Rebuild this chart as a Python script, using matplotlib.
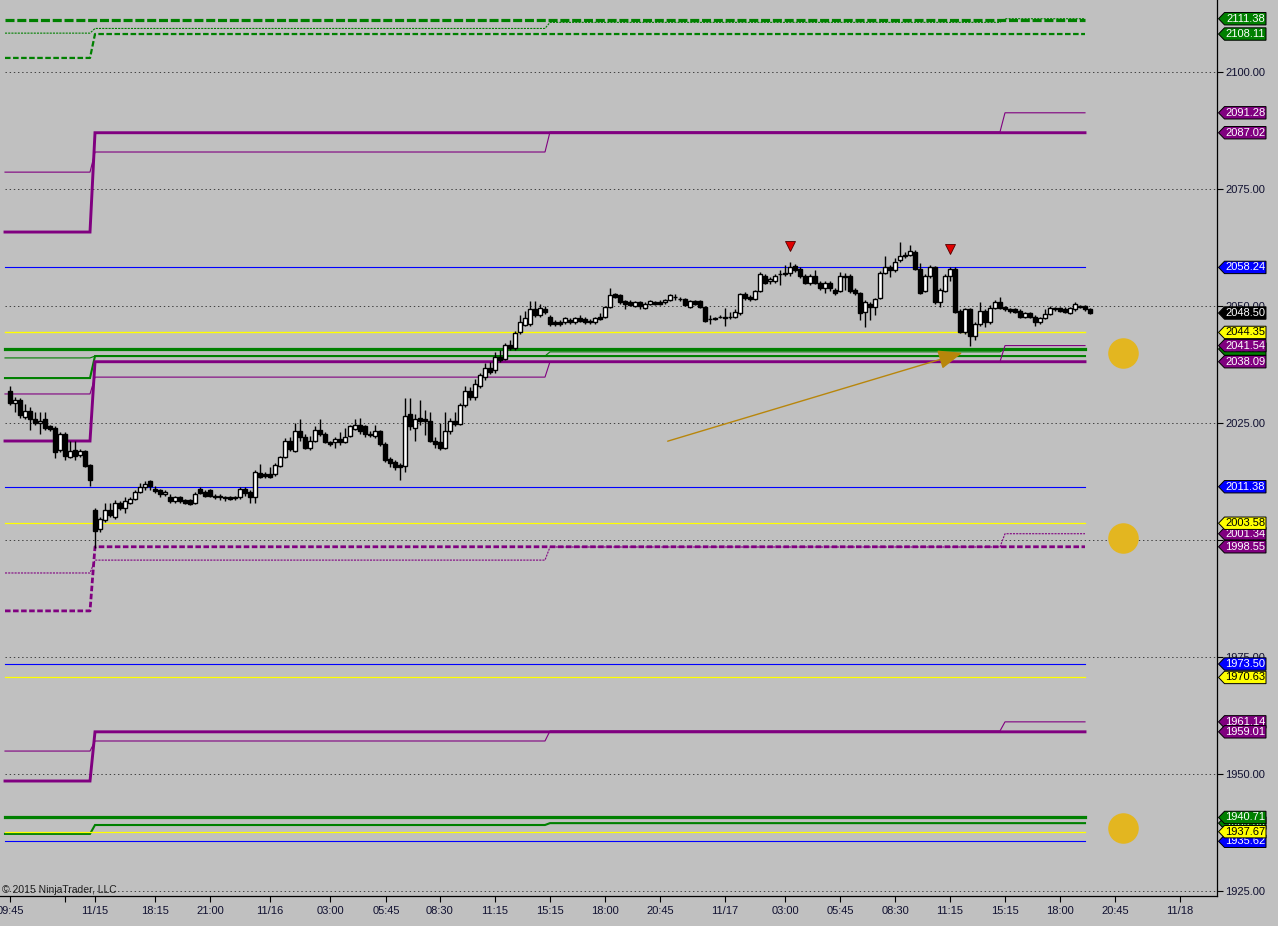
import matplotlib.pyplot as plt
import numpy as np
from matplotlib.patches import Polygon
from matplotlib.transforms import blended_transform_factory

plt.rcParams['font.family'] = ['Liberation Sans', 'DejaVu Sans']
plt.rcParams['lines.scale_dashes'] = False

# ---- 15 min candles (ES 12-15), left to right ----
opens = [
    2031.75, 2029.25, 2030.00, 2026.25, 2027.50, 2025.75, 2025.00, 2025.75, 2024.25, 2024.00,
    2019.25, 2022.75, 2017.75, 2019.25, 2018.25, 2019.00, 2016.00, 2006.50, 2002.25, 2004.25,
    2006.50, 2005.00, 2008.00, 2006.75, 2008.00, 2008.75, 2010.25, 2011.25, 2012.50, 2011.00,
    2010.75, 2009.75, 2009.25, 2008.25, 2009.25, 2008.50, 2008.50, 2008.00, 2011.00, 2010.25,
    2010.75, 2009.50, 2009.50, 2009.25, 2009.25, 2009.25, 2009.25, 2011.00, 2010.25, 2009.25,
    2014.25, 2014.00, 2014.00, 2014.00, 2015.75, 2017.75, 2021.25, 2019.00, 2023.25, 2022.00,
    2019.75, 2021.25, 2023.50, 2022.75, 2021.00, 2021.00, 2021.50, 2021.00, 2022.25, 2023.75,
    2024.50, 2024.25, 2022.75, 2022.25, 2023.25, 2020.50, 2017.25, 2016.75, 2016.00, 2015.75,
    2027.00, 2024.00, 2026.00, 2025.75, 2025.50, 2021.25, 2021.00, 2019.75, 2023.25, 2025.50,
    2024.75, 2028.75, 2031.75, 2030.50, 2033.00, 2034.75, 2036.75, 2036.25, 2039.00, 2038.75,
    2041.75, 2041.00, 2044.50, 2046.00, 2046.25, 2049.25, 2048.00, 2049.25, 2047.75, 2046.50,
    2046.50, 2046.50, 2047.00, 2046.50, 2047.50, 2047.25, 2046.75, 2046.50, 2047.75, 2047.75,
    2049.75, 2052.50, 2052.25, 2051.00, 2050.75, 2050.00, 2050.75, 2049.50, 2050.50, 2050.75,
    2050.75, 2050.75, 2051.25, 2052.00, 2051.50, 2051.50, 2049.75, 2051.00, 2051.00, 2049.75,
    2047.25, 2047.25, 2047.75, 2047.75, 2047.75, 2047.75, 2048.50, 2052.50, 2052.00, 2051.50,
    2053.25, 2056.50, 2055.25, 2055.25, 2056.75, 2057.00, 2057.00, 2058.50, 2058.00, 2056.50,
    2055.00, 2056.50, 2055.00, 2053.75, 2055.00, 2053.50, 2053.25, 2056.50, 2056.50, 2053.50,
    2052.75, 2048.75, 2050.50, 2049.75, 2051.75, 2057.00, 2058.25, 2057.75, 2059.75, 2060.75,
    2061.00, 2061.50, 2058.00, 2053.25, 2056.50, 2058.25, 2050.75, 2053.25, 2056.50, 2058.00,
    2049.00, 2044.50, 2049.25, 2043.50, 2046.25, 2049.00, 2046.50, 2049.50, 2050.75, 2049.75,
    2049.25, 2049.25, 2049.00, 2047.75, 2048.50, 2047.75, 2046.50, 2047.50, 2048.25, 2049.50,
    2049.50, 2049.25, 2048.50, 2049.25, 2050.00, 2050.00, 2049.25]
highs = [
    2033.00, 2030.50, 2030.25, 2029.00, 2028.50, 2027.25, 2027.25, 2027.25, 2024.50, 2024.25,
    2023.00, 2023.00, 2021.25, 2021.25, 2019.50, 2019.25, 2016.25, 2006.75, 2005.00, 2008.00,
    2008.00, 2008.50, 2008.25, 2009.25, 2009.25, 2010.75, 2012.25, 2012.50, 2012.75, 2011.50,
    2011.00, 2010.75, 2009.75, 2009.50, 2009.50, 2008.75, 2008.75, 2010.25, 2011.25, 2010.75,
    2011.00, 2009.75, 2009.75, 2009.50, 2009.50, 2009.50, 2011.25, 2011.25, 2010.75, 2015.00,
    2016.25, 2014.50, 2015.50, 2016.50, 2018.00, 2021.75, 2022.00, 2025.00, 2025.75, 2022.75,
    2022.25, 2024.25, 2025.75, 2023.00, 2021.25, 2022.00, 2023.00, 2024.00, 2024.50, 2025.75,
    2026.00, 2024.50, 2023.25, 2024.50, 2023.50, 2021.00, 2017.75, 2017.00, 2016.50, 2030.25,
    2030.25, 2027.00, 2030.00, 2027.75, 2027.25, 2022.00, 2025.00, 2027.25, 2026.00, 2027.25,
    2029.25, 2033.00, 2032.75, 2034.50, 2035.75, 2037.75, 2038.00, 2040.25, 2040.50, 2042.00,
    2042.75, 2044.75, 2048.00, 2049.00, 2051.00, 2051.00, 2050.50, 2050.00, 2048.00, 2047.00,
    2047.00, 2047.75, 2047.50, 2047.75, 2048.00, 2047.75, 2047.25, 2047.75, 2048.50, 2050.00,
    2053.75, 2052.75, 2052.50, 2051.25, 2051.25, 2051.00, 2051.00, 2050.75, 2051.25, 2051.00,
    2051.25, 2051.50, 2052.50, 2052.50, 2052.00, 2051.75, 2051.25, 2051.25, 2051.25, 2050.00,
    2048.00, 2047.75, 2048.00, 2049.50, 2048.75, 2049.25, 2052.75, 2053.00, 2052.25, 2053.50,
    2057.25, 2056.75, 2056.25, 2056.75, 2057.75, 2058.75, 2059.50, 2059.00, 2058.25, 2056.75,
    2056.75, 2057.75, 2055.25, 2055.25, 2055.25, 2053.75, 2057.25, 2057.00, 2056.75, 2053.75,
    2053.00, 2051.25, 2050.75, 2051.75, 2057.50, 2060.75, 2058.75, 2060.25, 2063.75, 2061.50,
    2063.00, 2062.00, 2059.25, 2056.75, 2058.75, 2058.50, 2053.75, 2056.75, 2058.25, 2058.25,
    2049.25, 2049.50, 2049.50, 2046.50, 2050.75, 2049.25, 2050.25, 2051.25, 2052.00, 2050.00,
    2049.50, 2049.50, 2049.25, 2048.75, 2048.75, 2048.00, 2047.75, 2049.25, 2050.00, 2049.75,
    2049.75, 2049.75, 2049.75, 2050.75, 2050.25, 2050.25, 2049.50]
lows = [
    2028.75, 2027.25, 2026.00, 2025.75, 2023.50, 2024.50, 2022.75, 2023.50, 2023.25, 2017.50,
    2018.75, 2017.00, 2017.50, 2017.00, 2017.75, 2015.50, 2011.50, 1998.25, 2001.75, 2003.75,
    2005.00, 2004.50, 2006.50, 2005.75, 2007.75, 2008.50, 2010.00, 2010.75, 2010.75, 2010.00,
    2009.25, 2009.50, 2008.00, 2008.00, 2008.00, 2007.75, 2007.50, 2007.75, 2009.75, 2009.25,
    2009.25, 2008.75, 2008.50, 2008.25, 2008.50, 2008.50, 2008.75, 2009.50, 2008.00, 2008.00,
    2013.25, 2013.25, 2013.25, 2013.75, 2015.50, 2017.50, 2019.00, 2018.75, 2021.25, 2019.50,
    2019.25, 2021.00, 2022.25, 2020.75, 2020.00, 2019.75, 2020.25, 2020.75, 2022.00, 2023.50,
    2022.75, 2022.00, 2022.00, 2021.75, 2020.00, 2016.75, 2015.50, 2015.00, 2012.75, 2014.50,
    2023.50, 2021.25, 2024.50, 2022.50, 2021.00, 2019.75, 2019.25, 2019.50, 2022.75, 2024.25,
    2024.50, 2028.50, 2030.00, 2030.00, 2032.50, 2034.25, 2035.50, 2035.75, 2038.00, 2038.50,
    2040.50, 2040.50, 2044.00, 2045.75, 2045.75, 2047.75, 2047.75, 2048.25, 2045.75, 2045.75,
    2045.75, 2046.25, 2046.25, 2046.25, 2046.50, 2046.25, 2046.25, 2046.25, 2047.00, 2047.50,
    2049.50, 2051.75, 2050.50, 2049.25, 2050.00, 2049.75, 2049.25, 2049.25, 2050.25, 2050.25,
    2050.25, 2050.50, 2051.00, 2051.25, 2051.00, 2050.00, 2049.50, 2050.25, 2049.50, 2046.50,
    2046.25, 2047.00, 2047.50, 2045.75, 2047.25, 2047.50, 2048.00, 2051.25, 2051.00, 2051.25,
    2053.00, 2054.75, 2054.75, 2055.00, 2054.50, 2056.50, 2056.50, 2057.25, 2056.00, 2054.75,
    2054.50, 2054.75, 2053.50, 2052.75, 2053.25, 2052.25, 2053.00, 2053.50, 2052.75, 2052.25,
    2047.00, 2045.50, 2047.00, 2048.00, 2051.50, 2056.75, 2056.25, 2057.25, 2059.50, 2060.25,
    2060.75, 2057.75, 2052.50, 2053.00, 2056.00, 2050.50, 2049.75, 2053.00, 2055.25, 2048.50,
    2044.25, 2044.00, 2041.50, 2042.75, 2045.75, 2045.50, 2046.25, 2049.25, 2049.25, 2049.00,
    2048.50, 2048.50, 2047.50, 2047.50, 2047.50, 2045.75, 2046.25, 2047.25, 2048.00, 2049.00,
    2048.75, 2048.50, 2048.25, 2049.00, 2049.50, 2049.00, 2048.25]
closes = [
    2029.25, 2030.00, 2026.75, 2027.50, 2025.75, 2025.00, 2025.50, 2024.00, 2023.75, 2018.75,
    2022.75, 2018.00, 2019.00, 2018.00, 2019.00, 2015.75, 2012.75, 2002.00, 2004.50, 2006.50,
    2005.25, 2008.00, 2006.75, 2008.25, 2008.75, 2010.25, 2011.25, 2012.00, 2011.50, 2010.50,
    2009.75, 2010.25, 2008.25, 2009.25, 2008.25, 2008.00, 2007.75, 2009.75, 2010.00, 2009.50,
    2009.50, 2009.25, 2009.25, 2009.00, 2008.75, 2009.00, 2011.00, 2010.00, 2009.25, 2014.50,
    2013.50, 2013.75, 2013.50, 2016.00, 2017.75, 2021.25, 2019.50, 2023.25, 2022.00, 2019.75,
    2021.25, 2023.50, 2022.75, 2021.00, 2020.50, 2021.50, 2021.00, 2022.00, 2024.25, 2024.50,
    2023.25, 2022.75, 2022.50, 2023.25, 2020.50, 2017.00, 2016.50, 2015.50, 2015.50, 2026.50,
    2024.25, 2025.75, 2025.50, 2025.50, 2021.25, 2020.50, 2019.75, 2023.25, 2025.50, 2024.75,
    2028.75, 2031.75, 2030.50, 2033.25, 2035.25, 2036.75, 2036.00, 2039.00, 2038.50, 2041.75,
    2041.00, 2044.25, 2046.50, 2047.50, 2049.25, 2048.00, 2049.50, 2048.75, 2046.25, 2046.25,
    2046.25, 2047.50, 2046.50, 2047.50, 2046.75, 2046.50, 2046.50, 2047.50, 2047.25, 2049.75,
    2052.25, 2052.00, 2050.75, 2050.50, 2050.25, 2050.75, 2050.00, 2050.50, 2051.00, 2050.50,
    2050.50, 2051.25, 2052.25, 2052.00, 2051.50, 2050.25, 2051.00, 2050.50, 2049.75, 2046.75,
    2047.25, 2047.50, 2047.75, 2047.50, 2047.75, 2048.75, 2052.50, 2051.75, 2051.50, 2053.25,
    2056.75, 2055.00, 2055.75, 2056.50, 2056.75, 2056.75, 2058.25, 2057.75, 2056.50, 2055.00,
    2056.50, 2055.00, 2053.75, 2055.00, 2053.75, 2052.75, 2056.50, 2056.25, 2053.25, 2052.75,
    2048.50, 2050.75, 2049.75, 2051.50, 2057.00, 2058.25, 2057.75, 2059.50, 2060.75, 2061.00,
    2061.75, 2058.00, 2052.75, 2056.50, 2058.25, 2050.75, 2053.50, 2056.50, 2058.00, 2048.75,
    2044.50, 2049.25, 2043.50, 2046.25, 2049.00, 2046.50, 2049.50, 2050.75, 2049.50, 2049.25,
    2049.00, 2048.75, 2047.75, 2048.50, 2047.75, 2046.50, 2047.50, 2048.25, 2049.50, 2049.25,
    2049.00, 2048.75, 2049.50, 2050.50, 2049.75, 2049.25, 2048.50]

# ---- pivot style levels: value per session segment (fri, sun/mon, mon/tue, tue/wed) ----
lvl_g_dash_top = [2111.00, 2111.00, 2111.00, 2111.00]
lvl_g_dot_top = [2108.30, 2109.30, 2110.60, 2111.38]
lvl_g_dash2_top = [2103.00, 2108.11, 2108.11, 2108.11]
lvl_p_thick_top = [2065.80, 2087.02, 2087.02, 2087.02]
lvl_p_thin_top = [2078.60, 2082.90, 2087.20, 2091.28]
lvl_b_1 = [2058.24, 2058.24, 2058.24, 2058.24]
lvl_y_1 = [2044.35, 2044.35, 2044.35, 2044.35]
lvl_g_thick_mid = [2040.80, 2040.80, 2040.80, 2040.80]
lvl_g_week_mid = [2034.60, 2039.30, 2039.30, 2039.30]
lvl_g_thin_mid = [2038.90, 2039.30, 2040.20, 2040.80]
lvl_p_thick_mid = [2021.15, 2038.09, 2038.09, 2038.09]
lvl_p_thin_mid = [2031.20, 2034.80, 2038.10, 2041.54]
lvl_b_2 = [2011.38, 2011.38, 2011.38, 2011.38]
lvl_y_2 = [2003.58, 2003.58, 2003.58, 2003.58]
lvl_p_thin_low = [1992.95, 1995.70, 1998.50, 2001.34]
lvl_p_dash_low = [1984.85, 1998.55, 1998.55, 1998.55]
lvl_b_3 = [1973.50, 1973.50, 1973.50, 1973.50]
lvl_y_3 = [1970.63, 1970.63, 1970.63, 1970.63]
lvl_p_thin_bot = [1954.90, 1957.05, 1959.20, 1961.14]
lvl_p_thick_bot = [1948.50, 1959.01, 1959.01, 1959.01]
lvl_g_thick_bot = [1940.71, 1940.71, 1940.71, 1940.71]
lvl_g_week_bot = [1937.20, 1939.10, 1939.50, 1939.50]
lvl_y_4 = [1937.67, 1937.67, 1937.67, 1937.67]
lvl_b_4 = [1935.62, 1935.62, 1935.62, 1935.62]

# right hand price flags, in drawing order
flag_values = [2111.38, 2108.11, 2091.28, 2087.02, 2058.24, 2040.80, 2041.54, 2038.09,
               2044.35, 2011.38, 2001.34, 2003.58, 1998.55, 1973.50, 1970.63, 1961.14,
               1959.01, 1939.50, 1935.62, 1937.67, 1940.71, 2048.50]
flag_colors = ['g', 'g', 'p', 'p', 'b', 'g', 'p', 'p',
               'y', 'b', 'p', 'y', 'p', 'b', 'y', 'p',
               'p', 'g', 'b', 'y', 'g', 'k']

tick_pos = [0, 11, 17, 29, 40, 52, 64, 75.2, 86, 97, 108, 119, 130, 143,
            155, 166, 177, 188, 199, 210, 221, 234]
tick_lab = ['09:45', '', '11/15', '18:15', '21:00', '11/16', '03:00', '05:45', '08:30',
            '11:15', '15:15', '18:00', '20:45', '11/17', '03:00', '05:45', '08:30',
            '11:15', '15:15', '18:00', '20:45', '11/18']

signal_bars = [156, 188]
signal_prices = [2062.8, 2062.2]
dot_bar = 222.6
dot_prices = [2040.0, 2000.4, 1938.5]
arrow_from = (131, 2020.94)
arrow_to = (191, 2040.17)

# ---- colours ----
BG = '#c0c0c0'
GREEN = '#008000'
PURPLE = '#800080'
BLUE = '#0000ff'
YELLOW = '#ffff00'
cmap = {'g': GREEN, 'p': PURPLE, 'b': BLUE, 'y': YELLOW, 'k': 'black'}

fig = plt.figure(figsize=(12.78, 9.26), dpi=100, facecolor=BG)
ax = fig.add_axes([0, 30 / 926, 1217 / 1278, 896 / 926])
ax.set_facecolor(BG)
ax.set_xlim(-2, 241.4)
ax.set_ylim(1923.93, 2115.38)

# dotted grid
yt = np.arange(1925, 2101, 25)
for v in yt:
    ax.plot([-1, 241.4], [v, v], color='#404040', lw=0.7, ls=(0, (1, 2)), zorder=1)

# level lines
seg_len = [18, 91, 91, 17]
lx = np.arange(-1, 216)
styles = [
    (lvl_g_dash_top, GREEN, 2.3, (0, (6.5, 2))),
    (lvl_g_dot_top, GREEN, 0.8, (0, (1.5, 0.8))),
    (lvl_g_dash2_top, GREEN, 1.6, (0, (4, 1.8))),
    (lvl_p_thick_top, PURPLE, 2.1, '-'),
    (lvl_p_thin_top, PURPLE, 0.8, '-'),
    (lvl_b_1, BLUE, 0.8, '-'),
    (lvl_y_1, YELLOW, 1.0, '-'),
    (lvl_g_week_mid, GREEN, 1.5, '-'),
    (lvl_g_thin_mid, GREEN, 0.8, '-'),
    (lvl_g_thick_mid, GREEN, 2.3, '-'),
    (lvl_p_thin_mid, PURPLE, 0.8, '-'),
    (lvl_p_thick_mid, PURPLE, 2.1, '-'),
    (lvl_b_2, BLUE, 0.8, '-'),
    (lvl_y_2, YELLOW, 0.9, '-'),
    (lvl_p_thin_low, PURPLE, 0.8, (0, (1.5, 0.8))),
    (lvl_p_dash_low, PURPLE, 2.0, (0, (4, 1.8))),
    (lvl_b_3, BLUE, 0.8, '-'),
    (lvl_y_3, YELLOW, 0.9, '-'),
    (lvl_p_thin_bot, PURPLE, 0.8, '-'),
    (lvl_p_thick_bot, PURPLE, 2.1, '-'),
    (lvl_g_week_bot, GREEN, 1.5, '-'),
    (lvl_g_thick_bot, GREEN, 2.3, '-'),
    (lvl_y_4, YELLOW, 0.9, '-'),
    (lvl_b_4, BLUE, 0.8, '-'),
]
for vals, col, lw, ls in styles:
    ax.plot(lx, np.repeat(vals, seg_len), color=col, lw=lw, ls=ls, zorder=2,
            solid_joinstyle='miter')

# candles
x = np.arange(len(opens))
o = np.array(opens); c = np.array(closes)
ax.vlines(x, lows, highs, color='black', lw=1.0, zorder=3)
up = c > o
dn = c < o
eq = c == o
ax.bar(x[up], (c - o)[up], bottom=o[up], width=0.8, color='white',
       edgecolor='black', lw=1.0, zorder=4)
ax.bar(x[dn], (o - c)[dn], bottom=c[dn], width=0.8, color='black',
       edgecolor='black', lw=1.0, zorder=4)
ax.hlines(o[eq], x[eq] - 0.45, x[eq] + 0.45, color='black', lw=1.0, zorder=4)

# markers
ax.plot(signal_bars, signal_prices, 'v', ms=7.5, color='#e00000', mec='#500000',
        mew=0.6, zorder=5)
ax.plot([dot_bar] * 3, dot_prices, 'o', ms=22, color='#e3b620', mec='none', zorder=5)
ax.annotate('', xy=arrow_to, xytext=arrow_from,
            arrowprops=dict(arrowstyle='-|>,head_length=1.0,head_width=0.4',
                            color='#b8860b', lw=1.0, mutation_scale=15), zorder=5)

# price flags on the right
tr = blended_transform_factory(ax.transAxes, ax.transData)
W = 1217.0
hh = 6.2 / 4.68
for k, (v, cc) in enumerate(zip(flag_values, flag_colors)):
    pts = [(1218.5 / W, v), (1224.5 / W, v + hh), (1266 / W, v + hh),
           (1266 / W, v - hh), (1224.5 / W, v - hh)]
    ax.add_patch(Polygon(pts, closed=True, transform=tr, facecolor=cmap[cc],
                         edgecolor='black', lw=0.7, clip_on=False, zorder=10 + 2 * k))
    ax.text(1245.5 / W, v, f'{v:.2f}', transform=tr, ha='center', va='center',
            fontsize=8, color='black' if cc == 'y' else 'white',
            zorder=11 + 2 * k, clip_on=False)

# axes look
for s in ['top', 'left']:
    ax.spines[s].set_visible(False)
ax.spines['right'].set_linewidth(0.9)
ax.spines['bottom'].set_linewidth(0.9)
ax.yaxis.tick_right()
ax.set_yticks(yt)
ax.set_yticklabels([f'{v:.2f}' for v in yt])
ax.tick_params(axis='y', length=4, width=0.8, pad=2, labelsize=8, labelcolor='#101030')
ax.set_xticks(tick_pos)
ax.set_xticklabels(tick_lab)
ax.tick_params(axis='x', length=4, width=0.8, pad=3, labelsize=8, labelcolor='#101030')

ax.text(2 / W, 6 / 896, '\u00a9 2015 NinjaTrader, LLC', transform=ax.transAxes,
        fontsize=7.5, color='#202020', va='center', ha='left')

fig.savefig('out.png', dpi=100, facecolor=BG)
